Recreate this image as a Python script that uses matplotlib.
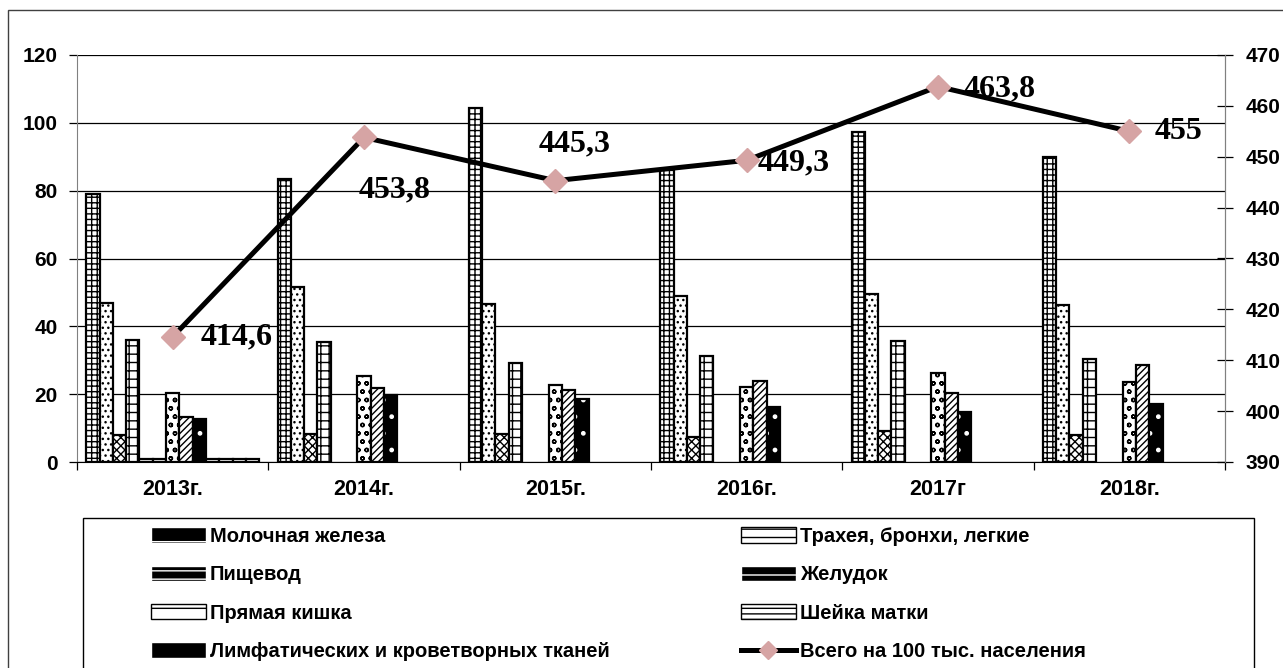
import numpy as np
import matplotlib.pyplot as plt
from matplotlib.patches import Rectangle, Patch
from matplotlib.lines import Line2D

plt.rcParams['font.family'] = ['Liberation Sans', 'DejaVu Sans']
plt.rcParams['hatch.linewidth'] = 1.0

years = ['2013г.', '2014г.', '2015г.', '2016г.', '2017г', '2018г.']

breast = [79, 83.5, 104.5, 86, 97.3, 90]
lung = [47, 51.6, 46.6, 49, 49.6, 46.3]
esophagus = [8, 8.3, 8.3, 7.5, 9.1, 8]
stomach = [36, 35.4, 29.2, 31.2, 35.7, 30.4]
rectum = [20.2, 25.4, 22.7, 22.1, 26.3, 23.6]
cervix = [13.2, 21.9, 21.2, 23.9, 20.4, 28.6]
lymph = [12.8, 19.8, 18.5, 16.2, 14.6, 17]
# unlabeled series, present only in 2013
extra_a = [0.8, 0, 0, 0, 0, 0]
extra_b = [0.8, 0, 0, 0, 0, 0]
extra_c = [0.8, 0, 0, 0, 0, 0]
extra_d = [0.8, 0, 0, 0, 0, 0]
extra_e = [0.8, 0, 0, 0, 0, 0]
extra_f = [0.8, 0, 0, 0, 0, 0]
total = [414.6, 453.8, 445.3, 449.3, 463.8, 455]
total_labels = ['414,6', '453,8', '445,3', '449,3', '463,8', '455']

fig = plt.figure(figsize=(12.83, 6.68), dpi=100)
W, H = 1283, 668
ax = fig.add_axes([77 / W, 1 - 462 / H, (1225 - 77) / W, (462 - 55) / H])

x = np.arange(len(years))
slot = 0.0695

series = [
    (breast, 'white', '+++'),
    (lung, 'white', '...'),
    (esophagus, 'white', 'xxxx'),
    (stomach, 'white', '++'),
    (extra_a, 'white', None),
    (extra_b, 'white', None),
    (rectum, 'white', 'oo'),
    (cervix, 'white', '/////'),
    (lymph, 'black', '.'),
    (extra_c, 'white', None),
    (extra_d, 'white', None),
    (extra_e, 'white', None),
    (extra_f, 'white', None),
]

n = len(series)
for i, (vals, fc, hatch) in enumerate(series):
    pos = x + (i - (n - 1) / 2) * slot
    vals = np.array(vals, dtype=float)
    vals[vals == 0] = np.nan  # empty cells are not drawn
    if fc == 'black':
        ax.bar(pos, vals, slot, color='black', edgecolor='white', hatch=hatch,
               linewidth=0, zorder=3)
        ax.bar(pos, vals, slot, fill=False, edgecolor='black', linewidth=1.6,
               zorder=3)
    else:
        ax.bar(pos, vals, slot, color=fc, edgecolor='black', hatch=hatch,
               linewidth=1.6, zorder=3)

ax.set_xlim(-0.5, 5.5)
ax.set_ylim(0, 120)
ax.set_yticks(np.arange(0, 121, 20))
ax.grid(axis='y', color='black', linewidth=0.9, zorder=0)
ax.set_axisbelow(True)
ax.set_xticks(x)
ax.set_xticklabels(years, fontsize=15.5, fontweight='bold')
ax.set_xticks(np.arange(-0.5, 6, 1), minor=True)
ax.tick_params(axis='x', which='major', length=0, pad=12)
ax.tick_params(axis='x', which='minor', length=6, width=0.9, direction='out')
ax.tick_params(axis='y', length=6, width=0.9, direction='out', pad=8, labelsize=15)
for t in ax.get_yticklabels():
    t.set_fontweight('bold')
ax.spines['top'].set_visible(False)
ax.spines['left'].set_color('#808080')
ax.spines['right'].set_color('#808080')
ax.spines['bottom'].set_color('black')

ax2 = ax.twinx()
ax2.set_ylim(390, 470)
ax2.set_yticks(np.arange(390, 471, 10))
ax2.tick_params(axis='y', length=12, width=0.9, direction='inout', pad=9, labelsize=15)
for t in ax2.get_yticklabels():
    t.set_fontweight('bold')
for s in ['top', 'left', 'bottom']:
    ax2.spines[s].set_visible(False)
ax2.spines['right'].set_color('#808080')
ax2.plot(x, total, color='black', linewidth=3.6, marker='D', markersize=12,
         markerfacecolor='#d6a4a4', markeredgecolor='#d6a4a4', zorder=5)

offsets = [(28, 0), (31, -52), (19, 37), (47, -3), (62, -2), (49, 0)]
for xi, yi, lab, off in zip(x, total, total_labels, offsets):
    ha = 'left' if lab == '414,6' else 'center'
    ax2.annotate(lab, (xi, yi), xytext=off, textcoords='offset pixels',
                 ha=ha, va='center', fontsize=23, fontweight='bold',
                 family=['Liberation Serif', 'DejaVu Serif'], zorder=6)

# outer chart frame and legend frame
fig.patches.append(Rectangle((8 / W, -0.1), 1.1, 1.1 - 10 / H, transform=fig.transFigure,
                             fill=False, edgecolor='#404040', linewidth=1))
fig.patches.append(Rectangle((83 / W, -0.1), (1254 - 83) / W, 0.1 + 1 - 518 / H,
                             transform=fig.transFigure, fill=False,
                             edgecolor='black', linewidth=1))

# legend keys, ordered column by column
handles = [
    Patch(facecolor='black', edgecolor='white', hatch='-', label='Молочная железа'),
    Patch(facecolor='black', edgecolor='white', hatch='--', label='Пищевод'),
    Patch(facecolor='white', edgecolor='black', hatch='-', label='Прямая кишка'),
    Patch(facecolor='black', edgecolor='white', hatch='', label='Лимфатических и кроветворных тканей'),
    Patch(facecolor='white', edgecolor='black', hatch='--', label='Трахея, бронхи, легкие'),
    Patch(facecolor='black', edgecolor='white', hatch='-', label='Желудок'),
    Patch(facecolor='white', edgecolor='black', hatch='---', label='Шейка матки'),
    Line2D([], [], color='black', linewidth=3.6, marker='D', markersize=9,
           markerfacecolor='#d6a4a4', markeredgecolor='#d6a4a4',
           label='Всего на 100 тыс. населения'),
]
fig.legend(handles=handles, loc='upper left', bbox_to_anchor=(133 / W, 1 - 509 / H),
           ncol=2, frameon=False, prop={'size': 14.5, 'weight': 'bold'},
           handlelength=2.7, handleheight=0.8, handletextpad=0.2,
           labelspacing=0.96, columnspacing=6.55)

fig.savefig('out.png', dpi=100)
